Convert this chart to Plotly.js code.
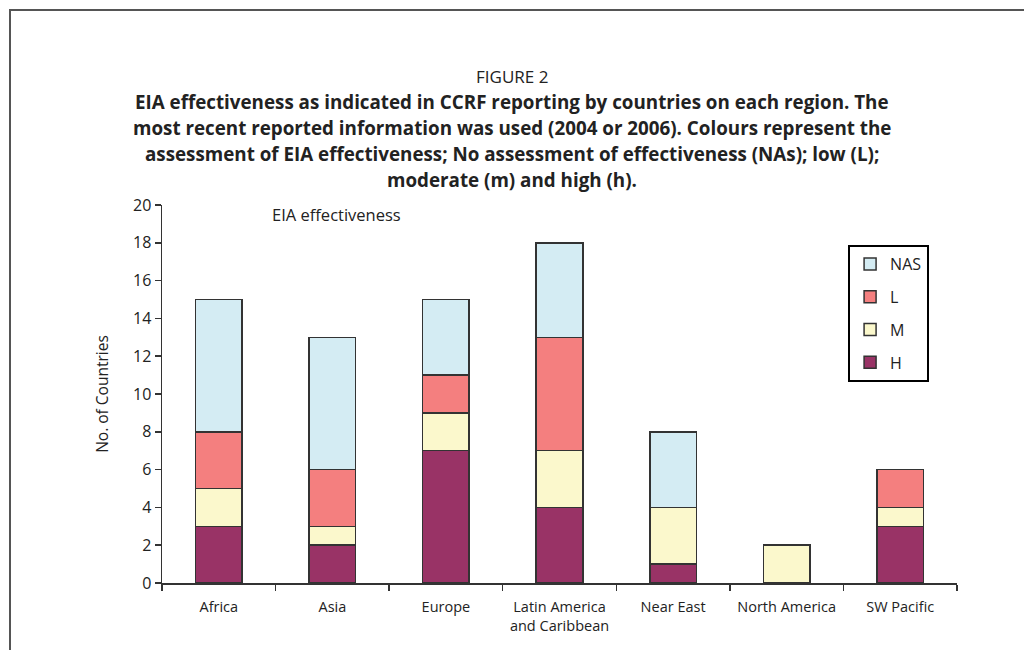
<!DOCTYPE html>
<html>
<head>
<meta charset="utf-8">
<script src="https://cdn.plot.ly/plotly-3.0.1.min.js"></script>
<style>
  html, body { margin: 0; padding: 0; background: #fff; }
  #wrap { position: relative; width: 1024px; height: 650px; }
  #chart { width: 1024px; height: 650px; }
  #frame { position: absolute; left: 9px; top: 9px; right: 0; bottom: 0;
           border-top: 2px solid #555; border-left: 2px solid #555; pointer-events: none; }
</style>
</head>
<body>
<div id="wrap"><div id="chart"></div><div id="frame"></div></div>
<script>
const regions = ["Africa", "Asia", "Europe", "Latin America<br>and Caribbean", "Near East", "North America", "SW Pacific"];
const seriesNames = ["H", "M", "L", "NAS"];
const valuesH   = [3, 2, 7, 4, 1, 0, 3];
const valuesM   = [2, 1, 2, 3, 3, 2, 1];
const valuesL   = [3, 3, 2, 6, 0, 0, 2];
const valuesNAS = [7, 7, 4, 5, 4, 0, 0];
const colors = ["#993366", "#FBF8CC", "#F47F7F", "#D4ECF3"];
const titleLines = [
  "EIA effectiveness as indicated in CCRF reporting by countries on each region. The",
  "most recent reported information was used (2004 or 2006). Colours represent the",
  "assessment of EIA effectiveness; No assessment of effectiveness (NAs); low (L);",
  "moderate (m) and high (h)."
];

const allValues = [valuesH, valuesM, valuesL, valuesNAS];
const traces = allValues.map((vals, i) => ({
  type: "bar",
  name: seriesNames[i],
  legendgroup: seriesNames[i],
  legendrank: 1000 - i,
  x: regions,
  y: vals.map(v => v === 0 ? null : v),
  marker: { color: colors[i], line: { color: "#333", width: 1.5 } },
  hoverinfo: "x+y+name"
}));

const font = "'Open Sans', 'Noto Sans', Arial, sans-serif";
const plotTopPx = 205;
const annotations = [
  { text: "FIGURE 2", xref: "paper", yref: "paper", x: 0.44, xanchor: "center", y: 1, yanchor: "middle",
    yshift: plotTopPx - 76, showarrow: false, font: { family: font, size: 17, color: "#222" } },
  { text: "EIA effectiveness", xref: "paper", yref: "paper", x: 0.22, xanchor: "center", y: 0.976, yanchor: "middle",
    showarrow: false, font: { family: font, size: 16.5, color: "#222" } }
];
const titleYs = [102, 128, 154, 180];
titleLines.forEach((t, i) => {
  annotations.push({ text: "<b>" + t + "</b>", xref: "paper", yref: "paper", x: 0.44, xanchor: "center", y: 1,
    yanchor: "middle", yshift: plotTopPx - titleYs[i],
    showarrow: false, font: { family: font, size: 18.8, color: "#222" } });
});

const layout = {
  width: 1024, height: 650,
  margin: { l: 162, r: 67, t: 205, b: 67 },
  paper_bgcolor: "rgba(0,0,0,0)", plot_bgcolor: "rgba(0,0,0,0)",
  barmode: "stack",
  bargap: 0.59,
  showlegend: true,
  legend: {
    x: 0.863, y: 0.894, xanchor: "left", yanchor: "top",
    traceorder: "grouped", tracegroupgap: 9,
    bordercolor: "#000", borderwidth: 2, bgcolor: "#fff",
    font: { family: font, size: 16, color: "#222" },
    itemwidth: 30
  },
  xaxis: {
    type: "category", showline: true, linecolor: "#333", linewidth: 1.5,
    ticks: "outside", tickson: "boundaries", ticklen: 6, tickcolor: "#333", tickwidth: 1.5,
    ticklabelstandoff: 10, tickangle: 0,
    showgrid: false, tickfont: { family: font, size: 14.5, color: "#222" }
  },
  yaxis: {
    range: [0, 20], dtick: 2, showline: true, linecolor: "#333", linewidth: 1.5,
    ticks: "outside", ticklen: 6, tickcolor: "#333", tickwidth: 1.5,
    showgrid: false, zeroline: false,
    tickfont: { family: font, size: 16, color: "#222" },
    title: { text: "No. of Countries", font: { family: font, size: 15.5, color: "#222" }, standoff: 20 }
  },
  annotations: annotations
};

Plotly.newPlot("chart", traces, layout, { staticPlot: true, displayModeBar: false });
</script>
</body>
</html>
